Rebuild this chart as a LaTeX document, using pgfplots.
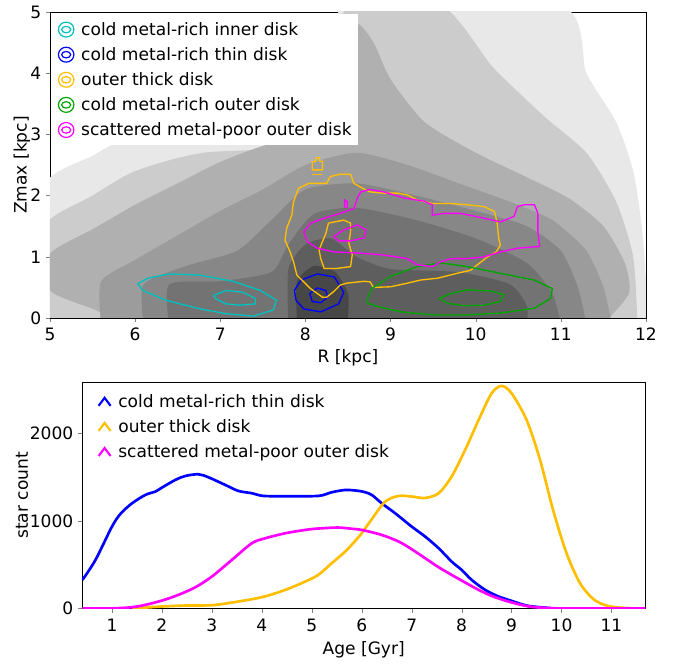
\documentclass[border=0pt]{standalone}
\usepackage{fontspec}
\setmainfont{DejaVu Sans}
\usepackage{pgfplots}
\pgfplotsset{compat=1.18}

\definecolor{ccyan}{rgb}{0,0.75,0.75}
\definecolor{cblue}{rgb}{0,0,1}
\definecolor{cgold}{rgb}{1,0.75,0}
\definecolor{cgreen}{rgb}{0,0.65,0}
\definecolor{cmag}{rgb}{1,0,1}

\pgfplotsset{
  every axis/.append style={font=\fontsize{12.8}{15}\selectfont},
  /pgf/number format/assume math mode=true,
  /pgf/number format/1000 sep={},
}

\begin{document}
\begin{tikzpicture}[font=\fontsize{12.8}{15}\selectfont]
\path[use as bounding box] (0,0) rectangle (506.25pt,498pt);

% top panel: Zmax vs R
\begin{axis}[
  at={(37.5pt,259.5pt)}, anchor=south west,
  scale only axis, width=447pt, height=229.5pt,
  xmin=5, xmax=12, ymin=0, ymax=5,
  xtick={5,...,12}, ytick={0,...,5},
  tick align=outside, xtick pos=left, ytick pos=left,
  major tick length=3pt,
  xticklabel style={yshift=-1pt},
  xlabel={R [kpc]}, ylabel={Zmax [kpc]},
  xlabel style={at={(axis description cs:0.5,-0.131)}, anchor=center},
  ylabel style={at={(axis description cs:-0.047,0.5)}, anchor=center, rotate=0},
  legend style={at={(0.006,0.994)}, anchor=north west, draw=none, fill=white,
    row sep=3.6pt, inner ysep=4pt, inner xsep=3pt,
    /tikz/every odd column/.append style={column sep=3pt}},
  legend cell align=left,
  legend image code/.code={
    \draw[#1, line width=0.9pt] (9pt,0pt) ellipse [x radius=5.8pt, y radius=5.6pt];
    \draw[#1, line width=0.9pt] (9pt,0pt) ellipse [x radius=3.4pt, y radius=2.4pt];
  },
]
% density of stars, as grey levels
\addplot[fill=black!9, draw=none, forget plot, smooth, tension=0.4] coordinates {
  (4.9,-0.1) (4.9,2.1) (5.5,2.65) (6.0,2.95) (7.5,3.0) (8.45,3.0) (8.45,5.1)
  (11.0,5.1) (11.3,4.0) (11.65,3.2) (11.85,2.4) (11.95,1.5) (12.0,0.6) (12.0,-0.1)} -- cycle;
\addplot[fill=black!20, draw=none, forget plot, smooth, tension=0.4] coordinates {
  (4.9,-0.1) (4.9,1.45) (5.5,2.0) (6.0,2.4) (6.8,2.7) (8.45,2.9) (8.45,4.2)
  (8.5,5.1) (9.6,5.1) (10.2,4.1) (10.8,3.3) (11.3,2.7) (11.65,1.9) (11.85,1.0) (11.9,-0.1)} -- cycle;
\addplot[fill=black!31, draw=none, forget plot, smooth, tension=0.4] coordinates {
  (5.9,-0.1) (5.5,0.15) (5.0,0.45) (5.0,1.05) (5.5,1.45) (6.0,1.85) (6.5,2.2)
  (7.0,2.55) (7.6,2.85) (8.4,3.0) (8.5,4.0) (8.6,4.8) (8.8,4.5) (9.0,3.9)
  (9.4,3.2) (10.0,2.7) (10.6,2.3) (11.1,1.95) (11.5,1.5) (11.75,0.9) (11.8,0.4) (11.5,-0.1)} -- cycle;
\addplot[fill=black!39, draw=none, forget plot, smooth, tension=0.4] coordinates {
  (5.6,-0.1) (5.6,0.6) (6.0,0.95) (6.5,1.35) (7.0,1.75) (7.5,2.1) (8.0,2.5)
  (8.6,2.7) (9.2,2.5) (9.8,2.2) (10.4,1.9) (10.9,1.6) (11.3,1.1) (11.5,0.5) (11.6,-0.1)} -- cycle;
\addplot[fill=black!47, draw=none, forget plot, smooth, tension=0.4] coordinates {
  (6.1,-0.1) (6.1,0.55) (6.6,0.85) (7.2,1.1) (7.6,1.6) (8.0,2.1) (8.6,2.2)
  (9.3,2.0) (10.0,1.75) (10.6,1.5) (11.0,1.1) (11.2,0.5) (11.3,-0.1)} -- cycle;
\addplot[fill=black!55, draw=none, forget plot, smooth, tension=0.4] coordinates {
  (6.4,-0.1) (6.4,0.55) (7.0,0.6) (7.6,0.75) (7.8,1.2) (8.1,1.7) (8.6,1.8)
  (9.3,1.6) (10.0,1.3) (10.6,0.9) (10.9,0.4) (11.0,-0.1)} -- cycle;
\addplot[fill=black!63, draw=none, forget plot, smooth, tension=0.4] coordinates {
  (7.8,-0.1) (7.8,0.8) (8.0,1.2) (8.3,1.3) (8.6,1.0) (9.0,0.8) (9.8,0.75)
  (10.4,0.55) (10.6,0.2) (10.6,-0.1)} -- cycle;
\addplot[fill=black!72, draw=none, forget plot, smooth, tension=0.4] coordinates {
  (7.9,0.0) (7.9,0.6) (8.1,0.85) (8.35,0.75) (8.5,0.4) (8.5,0.0)} -- cycle;

% cold metal-rich inner disk
\addplot[ccyan, line width=1pt] coordinates {
  (6.03,0.56) (6.15,0.65) (6.40,0.72) (6.76,0.70) (7.15,0.60) (7.47,0.45) (7.66,0.29)
  (7.62,0.13) (7.39,0.03) (7.07,0.07) (6.76,0.15) (6.36,0.29) (6.09,0.45) (6.03,0.56)};
\addlegendentry{cold metal-rich inner disk}
\addplot[ccyan, line width=1pt, forget plot] coordinates {
  (6.92,0.37) (7.07,0.45) (7.27,0.42) (7.41,0.32) (7.41,0.23) (7.23,0.21) (7.07,0.23) (6.94,0.32) (6.92,0.37)};

% cold metal-rich thin disk
\addplot[cblue, line width=1pt] coordinates {
  (7.87,0.45) (7.95,0.62) (8.14,0.72) (8.34,0.67) (8.45,0.42) (8.39,0.23) (8.18,0.10)
  (7.98,0.15) (7.89,0.29) (7.87,0.45)};
\addlegendentry{cold metal-rich thin disk}
\addplot[cblue, line width=1pt, forget plot] coordinates {
  (8.05,0.40) (8.14,0.49) (8.24,0.45) (8.26,0.34) (8.18,0.25) (8.08,0.27) (8.05,0.40)};

% outer thick disk
\addplot[cgold, line width=1pt] coordinates {
  (8.20,0.34) (8.06,0.48) (7.90,0.70) (7.86,0.92) (7.82,1.08) (7.76,1.27) (7.78,1.47)
  (7.84,1.68) (7.86,1.90) (7.92,2.12) (8.04,2.20) (8.25,2.20) (8.29,2.31) (8.41,2.35)
  (8.53,2.35) (8.57,2.20) (8.67,2.12) (8.76,2.06) (8.92,2.04) (9.08,2.04) (9.20,2.01)
  (9.31,1.93) (9.49,1.87) (9.71,1.87) (9.90,1.85) (10.10,1.82) (10.22,1.74) (10.25,1.57)
  (10.27,1.30) (10.29,1.19) (10.24,1.08) (10.14,1.00) (10.02,0.87) (9.94,0.78) (9.78,0.73)
  (9.55,0.65) (9.35,0.62) (9.20,0.57) (9.00,0.51) (8.80,0.50) (8.76,0.59) (8.69,0.60)
  (8.49,0.57) (8.41,0.54) (8.33,0.43) (8.25,0.34) (8.20,0.34)};
\addlegendentry{outer thick disk}
\addplot[cgold, line width=1pt, forget plot] coordinates {
  (8.27,1.55) (8.45,1.60) (8.53,1.55) (8.53,1.41) (8.51,1.22) (8.55,1.03) (8.53,0.84)
  (8.37,0.81) (8.22,0.81) (8.18,0.97) (8.16,1.11) (8.20,1.25) (8.24,1.38) (8.27,1.55)};
\addplot[cgold, line width=1pt, forget plot] coordinates {
  (8.08,2.42) (8.08,2.55) (8.12,2.56) (8.13,2.62) (8.16,2.62) (8.17,2.56) (8.20,2.56) (8.20,2.42) (8.08,2.42)};
\addplot[cgold, line width=1pt, forget plot] coordinates {(8.08,2.35) (8.20,2.35)};

% cold metal-rich outer disk
\addplot[cgreen, line width=1pt] coordinates {
  (8.73,0.32) (8.78,0.48) (9.00,0.68) (9.31,0.84) (9.59,0.90) (9.90,0.84) (10.29,0.73)
  (10.69,0.62) (10.90,0.48) (10.88,0.32) (10.69,0.16) (10.29,0.08) (9.90,0.05) (9.51,0.05)
  (9.12,0.10) (8.84,0.19) (8.73,0.24) (8.73,0.32)};
\addlegendentry{cold metal-rich outer disk}
\addplot[cgreen, line width=1pt, forget plot] coordinates {
  (9.57,0.32) (9.71,0.40) (9.90,0.46) (10.18,0.44) (10.33,0.38) (10.29,0.27) (10.10,0.21)
  (9.86,0.20) (9.67,0.24) (9.57,0.32)};

% scattered metal-poor outer disk
\addplot[cmag, line width=1pt] coordinates {
  (7.98,1.41) (8.06,1.55) (8.22,1.63) (8.41,1.71) (8.57,1.79) (8.61,1.96) (8.65,2.06)
  (8.75,2.10) (8.92,2.06) (9.16,1.96) (9.39,1.91) (9.49,1.85) (9.49,1.68) (9.63,1.71)
  (9.82,1.71) (10.10,1.63) (10.29,1.57) (10.45,1.66) (10.49,1.82) (10.57,1.85) (10.69,1.85)
  (10.73,1.71) (10.73,1.41) (10.75,1.17) (10.49,1.14) (10.29,1.08) (10.10,1.00) (9.90,0.97)
  (9.71,0.97) (9.59,0.92) (9.49,0.84) (9.31,0.87) (9.20,0.97) (8.92,1.03) (8.65,1.06)
  (8.33,1.08) (8.14,1.14) (8.02,1.25) (7.98,1.41)};
\addlegendentry{scattered metal-poor outer disk}
\addplot[cmag, line width=1pt, forget plot] coordinates {
  (8.33,1.33) (8.45,1.44) (8.61,1.52) (8.71,1.44) (8.69,1.31) (8.53,1.26) (8.39,1.26) (8.33,1.33)};
\addplot[cmag, line width=1pt, forget plot] coordinates {(8.46,1.80) (8.46,1.93) (8.49,1.90) (8.49,1.80)};
\end{axis}

% bottom panel: age distributions
\begin{axis}[
  at={(61.5pt,41.6pt)}, anchor=south west,
  scale only axis, width=422.6pt, height=169.9pt,
  xmin=0.4, xmax=11.68, ymin=0, ymax=2585,
  xtick={1,...,11}, ytick={0,1000,2000},
  scaled y ticks=false,
  tick align=outside, xtick pos=left, ytick pos=left,
  major tick length=3pt,
  xticklabel style={yshift=-1pt},
  xlabel={Age [Gyr]}, ylabel={star count},
  xlabel style={at={(axis description cs:0.5,-0.181)}, anchor=center},
  ylabel style={at={(axis description cs:-0.1065,0.5)}, anchor=center, rotate=0},
  legend style={at={(0.02,0.975)}, anchor=north west, draw=none, fill=none,
    row sep=3.6pt, inner ysep=3pt,
    /tikz/every odd column/.append style={column sep=3pt}},
  legend cell align=left,
  legend image code/.code={
    \draw[#1, line width=1.6pt] (0pt,-2.8pt) -- (4.5pt,3.2pt) -- (9pt,-2.8pt);
  },
]
\addplot[cblue, line width=2pt, smooth] coordinates {
  (0.41,327) (0.67,555) (1.0,935) (1.17,1080) (1.4,1200) (1.67,1297) (1.87,1335)
  (2.0,1380) (2.27,1468) (2.47,1513) (2.73,1532) (2.93,1498) (3.27,1410) (3.53,1342)
  (3.8,1316) (4.03,1285) (4.47,1282) (5.13,1285) (5.4,1327) (5.67,1353) (5.9,1345)
  (6.05,1330) (6.2,1297) (6.4,1201) (6.67,1087) (7.0,935) (7.27,821) (7.54,688)
  (7.8,536) (8.0,441) (8.2,327) (8.47,213) (8.74,137) (9.0,87) (9.3,34) (9.57,15) (9.8,4)};
\addlegendentry{cold metal-rich thin disk}
\addplot[cgold, line width=2pt, smooth] coordinates {
  (1.4,0) (2.0,23) (2.47,34) (3.0,38) (3.4,68) (4.0,129) (4.47,213) (4.87,308)
  (5.13,384) (5.4,517) (5.67,650) (5.85,760) (6.0,860) (6.2,1019) (6.47,1220)
  (6.74,1285) (7.0,1278) (7.27,1262) (7.54,1316) (7.8,1506) (8.07,1810) (8.34,2152)
  (8.6,2456) (8.8,2540) (9.0,2456) (9.3,2152) (9.57,1696) (9.83,1125) (10.1,631)
  (10.37,289) (10.64,106) (10.9,34) (11.17,11) (11.4,4)};
\addlegendentry{outer thick disk}
\addplot[cmag, line width=2pt, smooth] coordinates {
  (0.41,0) (1.0,2) (1.4,15) (1.67,42) (2.0,91) (2.33,156) (2.67,243) (3.0,365)
  (3.4,555) (3.8,745) (4.07,802) (4.47,859) (4.87,897) (5.13,913) (5.53,924) (5.8,910)
  (6.0,897) (6.4,840) (6.74,764) (7.0,677) (7.27,574) (7.54,471) (7.8,384) (8.07,297)
  (8.34,213) (8.6,144) (8.87,91) (9.14,49) (9.4,19) (9.8,4) (10.2,0) (11.68,0)};
\addlegendentry{scattered metal-poor outer disk}
\end{axis}
\end{tikzpicture}
\end{document}
